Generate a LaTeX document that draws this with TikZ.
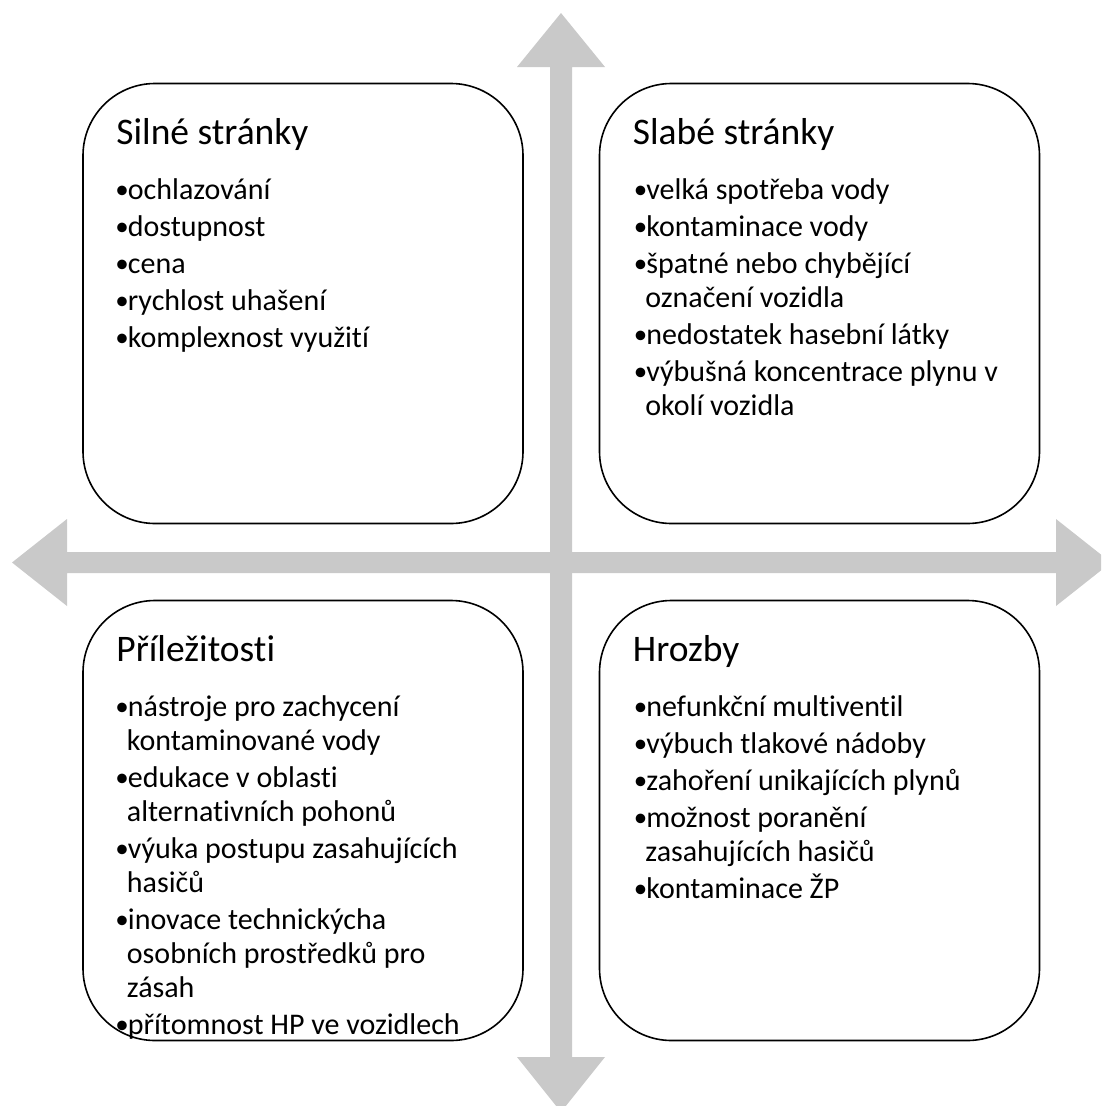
\documentclass[tikz,border=0pt]{standalone}
\usepackage{fontspec}
\setmainfont{Carlito}[Ligatures=NoCommon]
\usepackage{xcolor}
\usetikzlibrary{positioning}
\definecolor{axisgray}{RGB}{201,201,201}

\newcommand{\itm}[1]{\makebox[12.5pt][l]{\raisebox{0.8pt}{\fontsize{27}{27}\selectfont\textbullet}}#1}
\newcommand{\cnt}[1]{\hspace*{11.5pt}#1}

\begin{document}
\begin{tikzpicture}[x=1pt, y=-1pt,
    quad/.style={draw, line width=1.6pt, rounded corners=72pt, fill=white,
                 minimum width=440pt, minimum height=440pt},
    quadtitle/.style={anchor=base west, inner sep=0pt, font=\fontsize{37.5}{44}\selectfont},
    quadlist/.style={anchor=base west, inner sep=0pt, font=\fontsize{30}{34}\selectfont}]
    \clip (0,0) rectangle (1101,1106);
    \useasboundingbox (0,0) rectangle (1101,1106);

    % axes
    \fill[axisgray] (561,13) -- (605,67) -- (572,67) -- (572,1057) -- (605,1057) -- (561,1112)
        -- (517,1057) -- (550,1057) -- (550,67) -- (517,67) -- cycle;
    \fill[axisgray] (12,562.5) -- (67,519) -- (67,552) -- (1056,552) -- (1056,519) -- (1111,562.5)
        -- (1056,606) -- (1056,573) -- (67,573) -- (67,606) -- cycle;

    \node[quad] (strong) at (303,303.5) {};
    \node[quad] (weak)   at (819.5,303.5) {};
    \node[quad] (opp)    at (303,820.5) {};
    \node[quad] (threat) at (819.5,820.5) {};

    \node[quadtitle] (strongT) at ([xshift=34pt, yshift=-62pt]strong.north west) {Silné stránky};
    \node[quadlist]  (strongL) at ([xshift=33pt, yshift=-117pt]strong.north west) {\parbox[t]{420pt}{%
        \itm{ochlazování}\\[3pt]
        \itm{dostupnost}\\[3pt]
        \itm{cena}\\[3pt]
        \itm{rychlost uhašení}\\[3pt]
        \itm{komplexnost využití}}};

    \node[quadtitle] (weakT) at ([xshift=34pt, yshift=-62pt]weak.north west) {Slabé stránky};
    \node[quadlist]  (weakL) at ([xshift=35pt, yshift=-117pt]weak.north west) {\parbox[t]{420pt}{%
        \itm{velká spotřeba vody}\\[3pt]
        \itm{kontaminace vody}\\[3pt]
        \itm{špatné nebo chybějící}\\
        \cnt{označení vozidla}\\[3pt]
        \itm{nedostatek hasební látky}\\[3pt]
        \itm{výbušná koncentrace plynu v}\\
        \cnt{okolí vozidla}}};

    \node[quadtitle] (oppT) at ([xshift=34pt, yshift=-62pt]opp.north west) {Příležitosti};
    \node[quadlist]  (oppL) at ([xshift=33pt, yshift=-117pt]opp.north west) {\parbox[t]{420pt}{%
        \itm{nástroje pro zachycení}\\
        \cnt{kontaminované vody}\\[3pt]
        \itm{edukace v oblasti}\\
        \cnt{alternativních pohonů}\\[3pt]
        \itm{výuka postupu zasahujících}\\
        \cnt{hasičů}\\[3pt]
        \itm{inovace technickýcha}\\
        \cnt{osobních prostředků pro}\\
        \cnt{zásah}\\[3pt]
        \itm{přítomnost HP ve vozidlech}}};

    \node[quadtitle] (threatT) at ([xshift=34pt, yshift=-62pt]threat.north west) {Hrozby};
    \node[quadlist]  (threatL) at ([xshift=35pt, yshift=-117pt]threat.north west) {\parbox[t]{420pt}{%
        \itm{nefunkční multiventil}\\[3pt]
        \itm{výbuch tlakové nádoby}\\[3pt]
        \itm{zahoření unikajících plynů}\\[3pt]
        \itm{možnost poranění}\\
        \cnt{zasahujících hasičů}\\[3pt]
        \itm{kontaminace ŽP}}};
\end{tikzpicture}
\end{document}
